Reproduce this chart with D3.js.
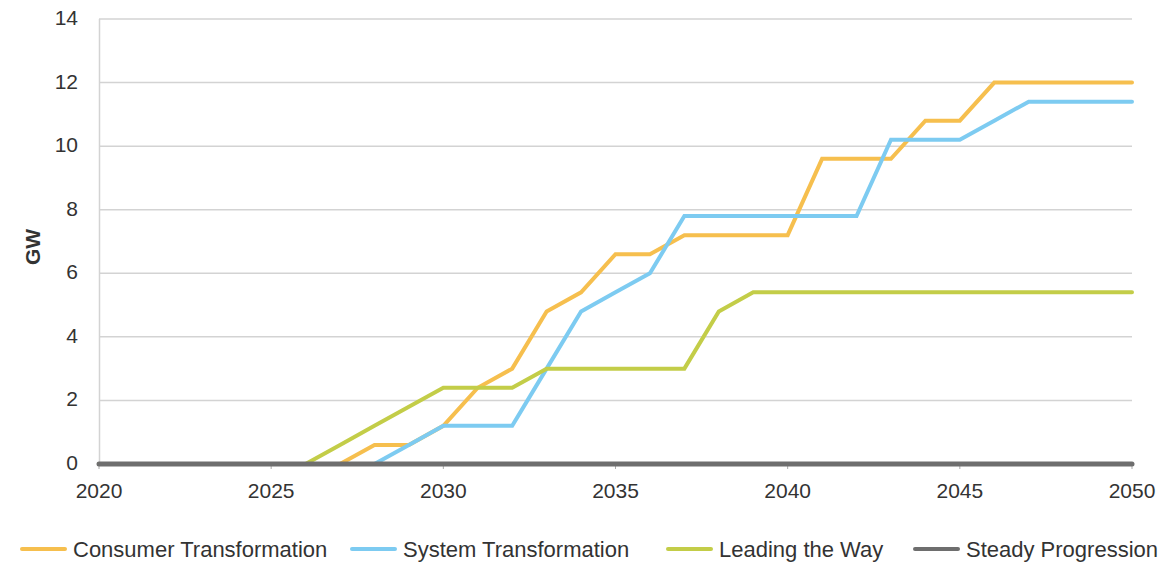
<!DOCTYPE html>
<html><head><meta charset="utf-8">
<script src="https://cdn.jsdelivr.net/npm/d3@7"></script>
<style>body{margin:0;background:#fff;font-family:"Liberation Sans",Arial,sans-serif;}</style>
</head><body><svg id="c" width="1173" height="562"></svg>
<script>
const years = d3.range(2020, 2051);
const consumer = [0,0,0,0,0,0,0,0,0.6,0.6,1.2,2.4,3.0,4.8,5.4,6.6,6.6,7.2,7.2,7.2,7.2,9.6,9.6,9.6,10.8,10.8,12,12,12,12,12];
const system   = [0,0,0,0,0,0,0,0,0,0.6,1.2,1.2,1.2,3.0,4.8,5.4,6.0,7.8,7.8,7.8,7.8,7.8,7.8,10.2,10.2,10.2,10.8,11.4,11.4,11.4,11.4];
const leading  = [0,0,0,0,0,0,0,0.6,1.2,1.8,2.4,2.4,2.4,3.0,3.0,3.0,3.0,3.0,4.8,5.4,5.4,5.4,5.4,5.4,5.4,5.4,5.4,5.4,5.4,5.4,5.4];
const steady   = years.map(() => 0);
const seriesNames = ["Consumer Transformation","System Transformation","Leading the Way","Steady Progression"];
const seriesColors = ["#F6BF4E","#7DCBF1","#C3CD48","#6E6E6E"];
const yTicks = [0,2,4,6,8,10,12,14];
const xTicks = [2020,2025,2030,2035,2040,2045,2050];

const svg = d3.select("#c");
const x = d3.scaleLinear().domain([2020,2050]).range([99,1132]);
const y = d3.scaleLinear().domain([0,14]).range([464,19]);

// gridlines
svg.append("g").selectAll("line").data(yTicks.filter(d=>d>0)).join("line")
  .attr("x1",99).attr("x2",1132).attr("y1",d=>y(d)).attr("y2",d=>y(d))
  .attr("stroke","#d3d3d3").attr("stroke-width",1.5);
// left axis line
svg.append("line").attr("x1",99.5).attr("x2",99.5).attr("y1",y(14)).attr("y2",y(0))
  .attr("stroke","#d3d3d3").attr("stroke-width",1.5);

// x ticks
svg.append("g").selectAll("line").data(xTicks).join("line")
  .attr("x1",d=>x(d)).attr("x2",d=>x(d)).attr("y1",y(0)).attr("y2",y(0)+5)
  .attr("stroke","#aaa").attr("stroke-width",1);

// tick labels
svg.append("g").selectAll("text").data(yTicks).join("text")
  .attr("x",78).attr("y",d=>y(d)+6).attr("text-anchor","end")
  .attr("font-size",21).attr("fill","#333").text(d=>d);
svg.append("g").selectAll("text").data(xTicks).join("text")
  .attr("x",d=>x(d)).attr("y",498).attr("text-anchor","middle")
  .attr("font-size",21).attr("fill","#333").text(d=>d);

svg.append("text").attr("transform","translate(40,247) rotate(-90)")
  .attr("text-anchor","middle").attr("font-size",21).attr("font-weight","bold")
  .attr("fill","#333").text("GW");

const data = [consumer, system, leading, steady];
const line = d3.line().x((d,i)=>x(years[i])).y(d=>y(d));
[0,1,2,3].forEach(k=>{
  svg.append("path").datum(data[k]).attr("d",line)
    .attr("fill","none").attr("stroke",seriesColors[k])
    .attr("stroke-width",k===3?5:4).attr("stroke-linejoin","miter").attr("stroke-linecap","round");
});

// legend
const legX = [22,352,668,915];
const lg = svg.append("g");
seriesNames.forEach((n,i)=>{
  lg.append("line").attr("x1",legX[i]).attr("x2",legX[i]+43).attr("y1",549).attr("y2",549)
    .attr("stroke",seriesColors[i]).attr("stroke-width",4).attr("stroke-linecap","round");
  lg.append("text").attr("x",legX[i]+51).attr("y",556.5).attr("font-size",22)
    .attr("fill","#333").text(n);
});
</script></body></html>
